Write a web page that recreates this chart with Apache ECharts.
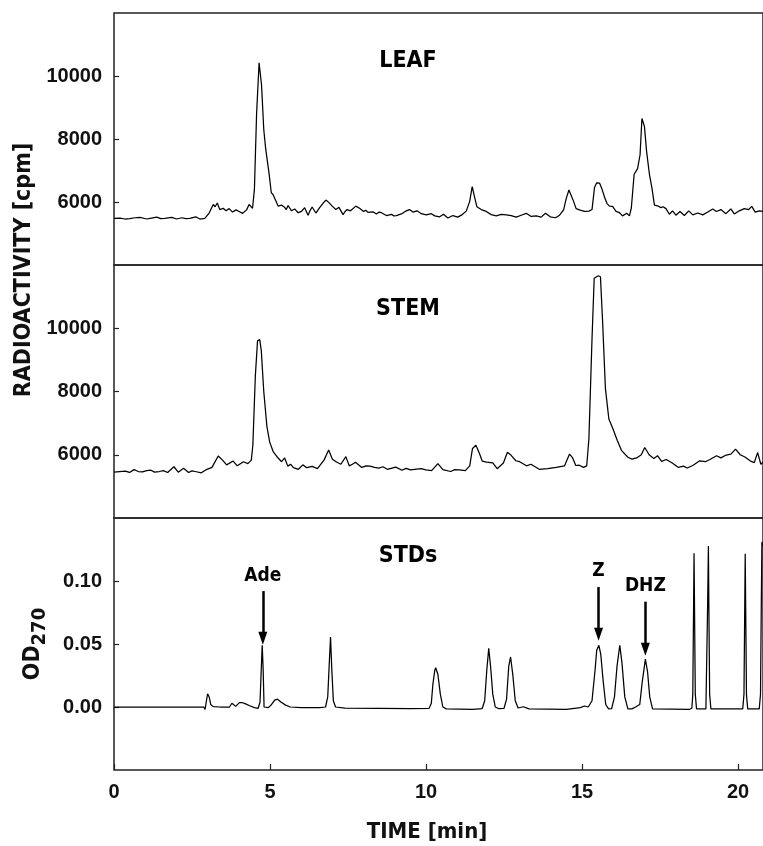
<!DOCTYPE html>
<html>
<head>
<meta charset="utf-8">
<script src="https://cdn.jsdelivr.net/npm/echarts@6/dist/echarts.min.js"></script>
<style>
  html, body { margin: 0; padding: 0; background: #fff; }
  #chart { width: 763px; height: 846px; }
</style>
</head>
<body>
<div id="chart"></div>
<script>
// Radio-HPLC traces: [time (min), radioactivity (cpm)]
const leafTrace = [
  [0,5480],[0.19,5490],[0.35,5460],[0.51,5470],[0.67,5500],[0.83,5510],[1.05,5460],[1.20,5490],[1.37,5520],
  [1.50,5470],[1.63,5480],[1.85,5510],[2.01,5460],[2.17,5500],[2.30,5470],[2.43,5480],[2.62,5530],[2.75,5460],
  [2.91,5480],[3.05,5650],[3.18,5920],[3.24,5850],[3.31,5970],[3.39,5760],[3.50,5800],[3.59,5720],[3.69,5790],
  [3.80,5680],[3.91,5750],[4.01,5700],[4.12,5640],[4.25,5750],[4.33,5920],[4.44,5800],[4.50,6400],[4.57,8800],
  [4.65,10420],[4.73,9700],[4.80,8300],[4.86,7700],[4.97,6900],[5.04,6300],[5.10,6230],[5.16,6260],[5.26,5870],
  [5.32,5930],[5.37,5900],[5.47,5830],[5.52,5760],[5.58,5890],[5.69,5720],[5.79,5780],[5.90,5660],[6.01,5700],
  [6.11,5820],[6.22,5580],[6.28,5720],[6.35,5840],[6.47,5650],[6.59,5820],[6.70,5960],[6.79,6060],[6.89,5980],
  [7.00,5860],[7.05,5920],[7.11,5760],[7.21,5830],[7.34,5600],[7.40,5690],[7.47,5760],[7.58,5720],[7.75,5870],
  [7.87,5800],[8.00,5700],[8.07,5740],[8.14,5670],[8.30,5690],[8.41,5620],[8.50,5680],[8.57,5660],[8.73,5570],
  [8.89,5610],[8.97,5560],[9.05,5570],[9.21,5620],[9.37,5720],[9.47,5760],[9.58,5680],[9.71,5720],[9.85,5630],
  [10.01,5590],[10.17,5630],[10.28,5560],[10.44,5530],[10.56,5610],[10.70,5490],[10.86,5570],[11.02,5520],
  [11.16,5600],[11.29,5710],[11.40,6020],[11.48,6490],[11.56,6140],[11.63,5850],[11.77,5760],[11.93,5700],
  [12.09,5600],[12.25,5560],[12.41,5610],[12.57,5590],[12.73,5570],[12.89,5520],[13.05,5580],[13.21,5640],
  [13.37,5540],[13.53,5560],[13.69,5520],[13.83,5640],[13.98,5530],[14.15,5500],[14.28,5580],[14.41,5750],
  [14.49,6100],[14.58,6380],[14.64,6330],[14.73,6020],[14.81,5790],[14.94,5740],[15.08,5700],[15.22,5710],
  [15.32,5760],[15.40,6460],[15.47,6610],[15.56,6600],[15.64,6410],[15.72,6160],[15.80,5950],[15.88,5870],
  [15.98,5860],[16.09,5700],[16.20,5660],[16.30,5560],[16.43,5640],[16.52,5560],[16.58,5810],[16.67,6880],
  [16.78,7060],[16.86,7500],[16.92,8650],[17.00,8400],[17.07,7600],[17.16,6880],[17.24,6450],[17.32,5900],
  [17.42,5880],[17.53,5820],[17.60,5850],[17.69,5790],[17.80,5610],[17.90,5720],[18.01,5580],[18.14,5700],
  [18.28,5570],[18.42,5720],[18.55,5590],[18.71,5650],[18.87,5590],[19.03,5680],[19.19,5780],[19.31,5700],
  [19.45,5760],[19.61,5630],[19.77,5780],[19.88,5620],[20.04,5720],[20.20,5790],[20.34,5760],[20.44,5860],
  [20.55,5680],[20.68,5720],[20.8,5700]
];

const stemTrace = [
  [0,5450],[0.18,5470],[0.36,5480],[0.50,5440],[0.64,5530],[0.78,5470],[0.91,5460],[1.05,5500],[1.18,5510],
  [1.30,5450],[1.45,5470],[1.58,5500],[1.72,5440],[1.92,5620],[2.06,5450],[2.23,5570],[2.39,5440],[2.50,5490],
  [2.60,5470],[2.80,5430],[2.94,5520],[3.14,5600],[3.34,5960],[3.48,5830],[3.61,5680],[3.82,5800],[3.95,5650],
  [4.15,5780],[4.29,5720],[4.40,5830],[4.45,6300],[4.53,8500],[4.60,9600],[4.67,9640],[4.72,9300],[4.80,8000],
  [4.90,6900],[4.99,6400],[5.10,6100],[5.24,5920],[5.37,5780],[5.47,5900],[5.57,5640],[5.66,5700],[5.75,5590],
  [5.91,5540],[6.05,5680],[6.18,5590],[6.35,5630],[6.52,5560],[6.73,5830],[6.88,6150],[7.00,5860],[7.13,5770],
  [7.27,5700],[7.43,5940],[7.54,5650],[7.64,5700],[7.74,5760],[7.94,5600],[8.08,5650],[8.21,5640],[8.35,5600],
  [8.49,5580],[8.62,5620],[8.76,5540],[9.03,5610],[9.23,5510],[9.36,5570],[9.50,5520],[9.84,5560],[10.00,5520],
  [10.18,5500],[10.38,5720],[10.54,5530],[10.79,5470],[10.92,5530],[11.06,5520],[11.26,5500],[11.40,5650],
  [11.49,6200],[11.60,6300],[11.71,6050],[11.80,5800],[11.94,5770],[12.14,5740],[12.28,5560],[12.48,5740],
  [12.61,6080],[12.72,5990],[12.88,5810],[13.00,5780],[13.22,5650],[13.36,5700],[13.63,5540],[13.90,5560],
  [14.17,5600],[14.44,5650],[14.60,6020],[14.70,5900],[14.80,5660],[14.91,5670],[15.05,5600],[15.15,5650],
  [15.22,6500],[15.32,9670],[15.39,11580],[15.52,11660],[15.59,11630],[15.66,10200],[15.75,8090],[15.86,7130],
  [15.99,6820],[16.13,6450],[16.27,6130],[16.47,5920],[16.60,5860],[16.75,5900],[16.90,6000],[17.01,6230],
  [17.15,6000],[17.30,5880],[17.42,5970],[17.55,5790],[17.70,5850],[17.89,5740],[18.09,5600],[18.25,5640],
  [18.37,5580],[18.55,5660],[18.77,5810],[18.95,5780],[19.10,5850],[19.31,5970],[19.45,5900],[19.62,5990],
  [19.77,6020],[19.92,6180],[20.07,6000],[20.22,5930],[20.40,5800],[20.52,5750],[20.63,6070],[20.73,5700],
  [20.8,5760]
];

// UV trace of the standards: [time (min), OD270]
const stdsTrace = [
  [0,0],[1,0],[2,0],[2.88,0],[2.92,-0.002],[2.95,0.003],[3.0,0.0105],[3.05,0.008],[3.1,0.002],
  [3.18,0.0003],[3.4,0],[3.7,0],[3.78,0.003],[3.84,0.0035],[3.9,0.0005],[3.95,-0.0005],[4.02,0.0035],
  [4.12,0.0034],[4.22,0.0025],[4.35,0.001],[4.5,-0.0005],[4.62,-0.001],[4.68,0.004],[4.72,0.03],
  [4.75,0.049],[4.78,0.03],[4.81,0.0],[4.85,-0.0008],[4.95,-0.0005],[5.05,0.002],[5.15,0.0055],
  [5.24,0.0062],[5.35,0.004],[5.5,0.0015],[5.65,0.0],[6.0,-0.0005],[6.6,-0.0005],[6.78,0.0],
  [6.85,0.008],[6.9,0.035],[6.94,0.0556],[6.98,0.03],[7.03,0.005],[7.1,0.0],[7.4,-0.0008],
  [8.5,-0.001],[9.5,-0.0012],[10.1,-0.001],[10.17,0.003],[10.22,0.018],[10.28,0.029],[10.31,0.0312],
  [10.38,0.026],[10.46,0.01],[10.54,0.0],[10.65,-0.0015],[11.5,-0.0018],[11.8,-0.0012],[11.88,0.005],
  [11.95,0.03],[12.01,0.0466],[12.07,0.032],[12.14,0.01],[12.22,0.0],[12.32,-0.0012],[12.5,-0.001],
  [12.58,0.006],[12.65,0.032],[12.71,0.0397],[12.78,0.026],[12.86,0.005],[12.95,-0.0008],[13.12,0.0002],
  [13.3,-0.0015],[14.5,-0.0018],[14.95,-0.0005],[15.08,0.0008],[15.2,0.0],[15.32,0.005],[15.42,0.03],
  [15.47,0.045],[15.54,0.049],[15.6,0.042],[15.68,0.02],[15.76,0.002],[15.85,-0.0015],[15.95,-0.0012],
  [16.04,0.008],[16.12,0.032],[16.21,0.049],[16.28,0.035],[16.37,0.008],[16.47,-0.0015],[16.6,-0.0015],
  [16.73,0.0002],[16.85,0.002],[16.93,0.02],[17.03,0.038],[17.1,0.028],[17.17,0.008],[17.26,-0.0015],
  [18.45,-0.0018],[18.52,-0.001],[18.55,0.01],[18.575,0.08],[18.59,0.122],[18.605,0.08],[18.63,0.01],
  [18.67,-0.0015],[18.97,-0.0015],[19.0,0.0],[19.025,0.08],[19.05,0.1278],[19.065,0.08],[19.09,0.01],
  [19.13,-0.0015],[19.5,-0.0015],[19.56,-0.0005],[19.62,-0.0015],[20.15,-0.0015],[20.19,0.01],
  [20.215,0.08],[20.23,0.1217],[20.245,0.08],[20.27,0.01],[20.31,-0.0015],[20.68,-0.0015],
  [20.72,0.01],[20.745,0.08],[20.765,0.131],[20.8,0.128]
];

// Axis ranges and tick spacing
const timeRange = [0, 20.8];
const timeStep = 5;
const cpmRange = [4000, 12000];
const cpmStep = 2000;
const odRange = [-0.05, 0.15];
const odStep = 0.05;

// Panel captions and peak annotations: [label, time, arrow top, arrow tip]
const panelNames = ['LEAF', 'STEM', 'STDs'];
const peakMarks = [
  ['Ade', 4.77, 0.092, 0.0545],
  ['Z', 15.53, 0.0952, 0.0577],
  ['DHZ', 17.03, 0.0836, 0.0458]
];

const NUM_FONT = '"Liberation Sans", Arial, sans-serif';
const NARROW_FONT = '"Liberation Sans Narrow", "Arial Narrow", "DejaVu Sans Condensed", sans-serif';

const gridTops = [13, 265, 518];
const gridHeights = [252, 253, 252];

const grids = gridTops.map((t, i) => ({
  left: 114, top: t, width: 650, height: gridHeights[i],
  show: true, borderColor: '#222', borderWidth: 1.5, backgroundColor: 'transparent'
}));

const xAxes = [0, 1, 2].map(i => ({
  type: 'value', gridIndex: i,
  min: timeRange[0], max: timeRange[1], interval: timeStep,
  axisLine: { show: false, onZero: false },
  splitLine: { show: false },
  axisTick: { show: i === 2, inside: true, length: 6, lineStyle: { color: '#222', width: 1.2 } },
  axisLabel: {
    show: i === 2, showMaxLabel: false, margin: 12,
    fontFamily: NUM_FONT, fontWeight: 'bold', fontSize: 20, color: '#111'
  }
}));

const yCommon = (i, range, step, fmt) => ({
  type: 'value', gridIndex: i,
  min: range[0], max: range[1], interval: step,
  axisLine: { show: false, onZero: false },
  splitLine: { show: false },
  axisTick: { show: true, inside: true, length: 5, lineStyle: { color: '#222', width: 1.2 } },
  axisLabel: {
    showMinLabel: false, showMaxLabel: false, margin: 12,
    fontFamily: NUM_FONT, fontWeight: 'bold', fontSize: 20, color: '#111',
    formatter: fmt
  }
});

const yAxes = [
  yCommon(0, cpmRange, cpmStep, v => String(v)),
  yCommon(1, cpmRange, cpmStep, v => String(v)),
  Object.assign(yCommon(2, odRange, odStep, v => v.toFixed(2)), {
    name: '{od|OD}{sub|270}',
    nameLocation: 'middle',
    nameRotate: 90,
    nameGap: 64,
    nameTextStyle: {
      rich: {
        od: { fontFamily: NARROW_FONT, fontWeight: 'bold', fontSize: 23, color: '#111' },
        sub: { fontFamily: NARROW_FONT, fontWeight: 'bold', fontSize: 20, color: '#111',
               verticalAlign: 'bottom', padding: [14, 0, 0, 0] }
      }
    }
  })
];

const lineStyle = { color: '#000', width: 1.25 };

const series = [
  { type: 'line', xAxisIndex: 0, yAxisIndex: 0, data: leafTrace, showSymbol: false, lineStyle, silent: true },
  { type: 'line', xAxisIndex: 1, yAxisIndex: 1, data: stemTrace, showSymbol: false, lineStyle, silent: true },
  {
    type: 'line', xAxisIndex: 2, yAxisIndex: 2, data: stdsTrace, showSymbol: false, lineStyle, silent: true,
    markLine: {
      silent: true,
      animation: false,
      symbol: ['none', 'triangle'],
      symbolSize: [9, 13],
      lineStyle: { color: '#000', width: 2.5, type: 'solid' },
      label: {
        show: true, position: 'start', distance: 6,
        formatter: '{b}',
        fontFamily: NARROW_FONT, fontWeight: 'bold', fontSize: 19, color: '#000'
      },
      data: peakMarks.map(m => [
        { name: m[0], coord: [m[1], m[2]] },
        { coord: [m[1], m[3]] }
      ])
    }
  }
];

const chart = echarts.init(document.getElementById('chart'), null, { renderer: 'canvas' });
chart.setOption({
  animation: false,
  backgroundColor: '#fff',
  grid: grids,
  xAxis: xAxes,
  yAxis: yAxes,
  series: series,
  graphic: [
    // panel captions
    ...panelNames.map((name, i) => ({
      type: 'text', x: 408, y: [61, 309, 556][i],
      style: {
        text: name, align: 'center', verticalAlign: 'middle',
        font: 'bold 23px ' + NARROW_FONT, fill: '#000'
      }
    })),
    // shared y-axis title for the two radioactivity panels
    {
      type: 'text', x: 24, y: 270, rotation: Math.PI / 2,
      style: {
        text: 'RADIOACTIVITY [cpm]', align: 'center', verticalAlign: 'middle',
        font: 'bold 23px ' + NARROW_FONT, fill: '#111'
      }
    },
    // x-axis title
    {
      type: 'text', x: 427, y: 832,
      style: {
        text: 'TIME [min]', align: 'center', verticalAlign: 'middle',
        font: 'bold 22px ' + NARROW_FONT, fill: '#111'
      }
    }
  ]
});
</script>
</body>
</html>
